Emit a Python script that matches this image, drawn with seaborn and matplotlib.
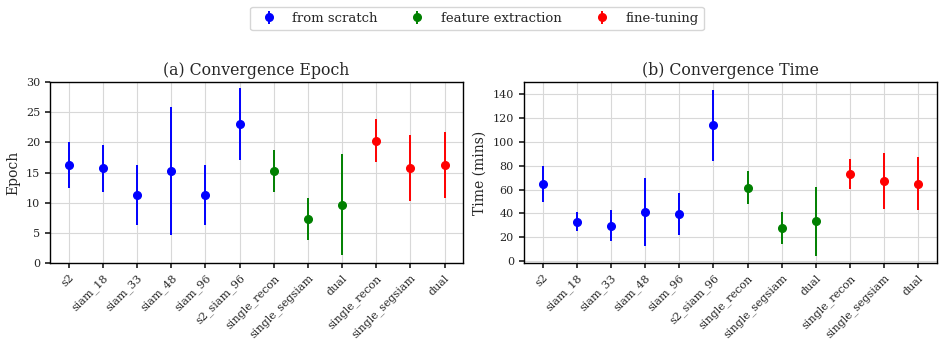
import matplotlib
matplotlib.use("Agg")
import matplotlib.pyplot as plt
from matplotlib.ticker import MultipleLocator
import seaborn as sns
import numpy as np

labels = ["s2", "siam_18", "siam_33", "siam_48", "siam_96", "s2_siam_96",
          "single_recon", "single_segsiam", "dual",
          "single_recon", "single_segsiam", "dual"]
groups = ["from scratch"] * 6 + ["feature extraction"] * 3 + ["fine-tuning"] * 3
group_names = ["from scratch", "feature extraction", "fine-tuning"]
group_colors = {"from scratch": "blue", "feature extraction": "green", "fine-tuning": "red"}

epoch_mean = [16.3, 15.7, 11.3, 15.3, 11.3, 23.0, 15.3, 7.3, 9.7, 20.3, 15.7, 16.3]
epoch_err = [3.8, 3.85, 5.0, 10.6, 5.0, 6.0, 3.5, 3.5, 8.3, 3.5, 5.5, 5.5]

time_mean = [65.0, 33.0, 29.5, 41.3, 39.3, 114.0, 61.5, 28.0, 33.3, 73.3, 67.0, 65.0]
time_err = [15.0, 8.0, 13.0, 28.7, 17.7, 30.0, 14.0, 13.5, 28.7, 12.8, 23.5, 22.0]

sns.set_theme(style="whitegrid", rc={
    "axes.edgecolor": "black", "axes.linewidth": 1.0,
    "grid.color": "#d8d8d8", "grid.linewidth": 0.8,
    "xtick.bottom": True, "ytick.left": True,
    "xtick.major.size": 3.5, "ytick.major.size": 3.5,
    "xtick.color": "#262626", "ytick.color": "#262626",
})
plt.rcParams["font.family"] = ["DejaVu Serif"]

fig, axes = plt.subplots(1, 2, figsize=(9.39, 3.42), dpi=100)
x = np.arange(len(labels))

def draw(ax, mean, err, title, ylabel):
    for g in group_names:
        idx = [i for i, gg in enumerate(groups) if gg == g]
        ax.errorbar(x[idx], [mean[i] for i in idx], yerr=[err[i] for i in idx],
                    fmt="o", color=group_colors[g], markersize=5.5, elinewidth=1.4,
                    label=g)
    ax.set_xticks(x)
    ax.set_xticklabels(labels, rotation=45, ha="right", rotation_mode="anchor", fontsize=8)
    ax.tick_params(axis="y", labelsize=8)
    ax.set_title(title, fontsize=11.3, pad=5)
    ax.set_ylabel(ylabel, fontsize=10)

draw(axes[0], epoch_mean, epoch_err, "(a) Convergence Epoch", "Epoch")
axes[0].set_ylim(0, 30)
draw(axes[1], time_mean, time_err, "(b) Convergence Time", "Time (mins)")
axes[1].set_ylim(-1.7, 150.4)
axes[1].yaxis.set_major_locator(MultipleLocator(20))

handles, lbls = axes[0].get_legend_handles_labels()
fig.legend(handles, lbls, loc="upper center", ncol=3, bbox_to_anchor=(0.508, 1.0),
           fontsize=9.5, frameon=True)

fig.subplots_adjust(left=0.0532, right=0.998, top=0.760, bottom=0.231, wspace=0.146)
fig.savefig("out.png", dpi=100)
